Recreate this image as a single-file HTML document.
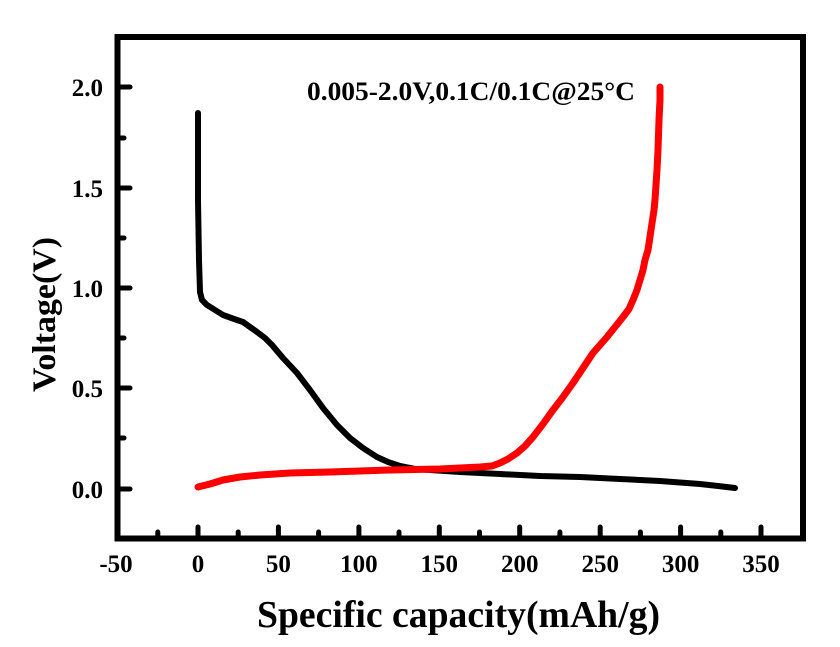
<!DOCTYPE html>
<html>
<head>
<meta charset="utf-8">
<style>
  html,body{margin:0;padding:0;background:#fff;}
  svg{display:block;}
  text{font-family:"Liberation Serif","Times New Roman",serif;font-weight:bold;fill:#000;}
</style>
</head>
<body>
<svg width="840" height="647" viewBox="0 0 840 647" xmlns="http://www.w3.org/2000/svg">
  <rect x="0" y="0" width="840" height="647" fill="#fff"/>

  <!-- curves -->
  <path d="M198,113 L198,200 L199,260 L200,292 L202,300 L207,305 L215,310 L223,315 L237,320 L243,322 L250,327 L257,332 L265,338 L272,345 L283,358 L297,373 L310,390 L323,408 L337,425 L350,438 L363,448 L377,457 L388,462 L400,466 L415,469 L430,470 L460,472 L500,474 L540,476 L580,477 L620,479 L660,481 L700,484 L718,486 L735,488"
        fill="none" stroke="#000" stroke-width="6" stroke-linejoin="round" stroke-linecap="round"/>
  <path d="M198,487 L210,484 L223,480 L240,477 L260,475 L290,473 L330,472 L390,470 L440,469 L480,467 L492,466 L500,463 L508,459 L517,453 L525,446 L533,437 L543,424 L553,410 L563,397 L573,383 L583,368 L593,353 L607,337 L615,327 L623,317 L629,309 L633,300 L637,290 L640,280 L643,270 L645,260 L648,250 L651,230 L654,210 L655,200 L657,170 L658,150 L659,120 L660,100 L660,87"
        fill="none" stroke="#ff0000" stroke-width="7" stroke-linejoin="round" stroke-linecap="round"/>

  <!-- frame -->
  <rect x="117.5" y="37" width="685.5" height="501.5" fill="none" stroke="#000" stroke-width="6"/>

  <!-- y ticks -->
  <g stroke="#000" stroke-width="5" stroke-linecap="round">
    <line x1="118" y1="87" x2="130" y2="87"/>
    <line x1="118" y1="188" x2="130" y2="188"/>
    <line x1="118" y1="288" x2="130" y2="288"/>
    <line x1="118" y1="388" x2="130" y2="388"/>
    <line x1="118" y1="489" x2="130" y2="489"/>
    <line x1="118" y1="138" x2="124" y2="138"/>
    <line x1="118" y1="238" x2="124" y2="238"/>
    <line x1="118" y1="338" x2="124" y2="338"/>
    <line x1="118" y1="438" x2="124" y2="438"/>
    <!-- x ticks -->
    <line x1="198" y1="538" x2="198" y2="527"/>
    <line x1="278.4" y1="538" x2="278.4" y2="527"/>
    <line x1="358.9" y1="538" x2="358.9" y2="527"/>
    <line x1="439.3" y1="538" x2="439.3" y2="527"/>
    <line x1="519.7" y1="538" x2="519.7" y2="527"/>
    <line x1="600.2" y1="538" x2="600.2" y2="527"/>
    <line x1="680.6" y1="538" x2="680.6" y2="527"/>
    <line x1="761" y1="538" x2="761" y2="527"/>
    <line x1="157.8" y1="538" x2="157.8" y2="532"/>
    <line x1="238.2" y1="538" x2="238.2" y2="532"/>
    <line x1="318.6" y1="538" x2="318.6" y2="532"/>
    <line x1="399" y1="538" x2="399" y2="532"/>
    <line x1="479.5" y1="538" x2="479.5" y2="532"/>
    <line x1="559.9" y1="538" x2="559.9" y2="532"/>
    <line x1="640.4" y1="538" x2="640.4" y2="532"/>
    <line x1="720.8" y1="538" x2="720.8" y2="532"/>
  </g>

  <!-- y tick labels -->
  <g font-size="25" text-anchor="end">
    <text x="103" y="96">2.0</text>
    <text x="103" y="197">1.5</text>
    <text x="103" y="297">1.0</text>
    <text x="103" y="397">0.5</text>
    <text x="103" y="498">0.0</text>
  </g>

  <!-- x tick labels -->
  <g font-size="25" text-anchor="middle">
    <text x="116" y="572">-50</text>
    <text x="198" y="572">0</text>
    <text x="278.4" y="572">50</text>
    <text x="358.9" y="572">100</text>
    <text x="439.3" y="572">150</text>
    <text x="519.7" y="572">200</text>
    <text x="600.2" y="572">250</text>
    <text x="680.6" y="572">300</text>
    <text x="761" y="572">350</text>
  </g>

  <!-- annotation -->
  <text x="307" y="100" font-size="26" textLength="328" lengthAdjust="spacingAndGlyphs">0.005-2.0V,0.1C/0.1C@25°C</text>

  <!-- axis titles -->
  <text x="458.5" y="627" font-size="38" text-anchor="middle" textLength="403" lengthAdjust="spacingAndGlyphs">Specific capacity(mAh/g)</text>
  <text transform="translate(55,314.5) rotate(-90)" x="0" y="0" font-size="33" text-anchor="middle" textLength="155" lengthAdjust="spacingAndGlyphs">Voltage(V)</text>
</svg>
</body>
</html>
